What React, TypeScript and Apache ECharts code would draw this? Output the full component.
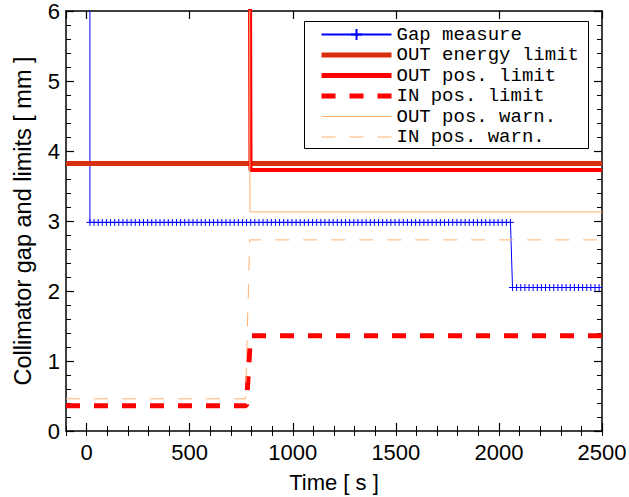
import React, { useEffect, useRef } from "react";
import * as echarts from "echarts";

// ---- data ----
const xRange = [-100, 2500];
const yRange = [0, 6];

// Gap measure: sampled every ~20 s, two constant plateaus after an initial off-scale value
const gapInitial: [number, number] = [16, 9];
const gapSampleStep = 20;
const gapSegments = [
  { start: 16, end: 2056, value: 2.98 },
  { start: 2066, end: 2486, value: 2.05 },
];

const outEnergyLimit: [number, number][] = [
  [-100, 3.82],
  [2500, 3.82],
];
const outPosLimit: [number, number][] = [
  [-100, 9],
  [790, 9],
  [795, 3.73],
  [2500, 3.73],
];
const inPosLimit: [number, number][] = [
  [-100, 0.36],
  [775, 0.36],
  [795, 1.36],
  [2500, 1.36],
];
const outPosWarn: [number, number][] = [
  [-100, 9],
  [790, 9],
  [792, 3.13],
  [2500, 3.13],
];
const inPosWarn: [number, number][] = [
  [-100, 0.46],
  [771, 0.46],
  [791, 2.73],
  [2500, 2.73],
];

const seriesNames = [
  "Gap measure",
  "OUT energy limit",
  "OUT pos. limit",
  "IN pos. limit",
  "OUT pos. warn.",
  "IN pos. warn.",
];

const buildGap = (): [number, number][] => {
  const pts: [number, number][] = [gapInitial];
  gapSegments.forEach((s) => {
    for (let t = s.start; t <= s.end; t += gapSampleStep) pts.push([t, s.value]);
  });
  return pts;
};

const FONT = "'Liberation Sans', Arial, Helvetica, sans-serif";
const MONO = "'Liberation Mono', 'Courier New', monospace";

const BLUE = "#0000ff";
const ENERGY = "#d8300c";
const RED = "#ff0000";
const WARN = "#ffb070";

export default function App() {
  const ref = useRef<HTMLDivElement>(null);
  useEffect(() => {
    if (!ref.current) return;
    const chart = echarts.init(ref.current, undefined, { renderer: "svg" });
    const axisLine = { show: true, onZero: false, lineStyle: { color: "#000", width: 1.5 } };
    const baseX = {
      type: "value" as const,
      min: xRange[0],
      max: xRange[1],
      splitLine: { show: false },
    };
    const baseY = {
      type: "value" as const,
      min: yRange[0],
      max: yRange[1],
      interval: 1,
      splitLine: { show: false },
    };
    const hiddenSym = { opacity: 0 };
    chart.setOption({
      animation: false,
      backgroundColor: "#fff",
      grid: { left: 66, right: 27, top: 11, bottom: 66, containLabel: false, outerBoundsMode: "none" },
      graphic: [
        {
          type: "rect",
          z: 9,
          shape: { x: 304.5, y: 21.5, width: 284, height: 127 },
          style: { fill: "#fff", stroke: "#000", lineWidth: 1 },
        },
      ],
      legend: {
        orient: "vertical",
        left: 304,
        top: 21,
        z: 10,
        data: [
          { name: seriesNames[0] },
          { name: seriesNames[1], itemStyle: hiddenSym, lineStyle: { width: 5 } },
          { name: seriesNames[2], itemStyle: hiddenSym, lineStyle: { width: 5 } },
          { name: seriesNames[3], itemStyle: hiddenSym, lineStyle: { width: 5 } },
          { name: seriesNames[4], itemStyle: hiddenSym, lineStyle: { width: 1 } },
          { name: seriesNames[5], itemStyle: hiddenSym, lineStyle: { width: 1 } },
        ],
        backgroundColor: "transparent",
        borderWidth: 0,
        padding: [4, 4, 3, 15],
        itemWidth: 70,
        itemHeight: 14,
        itemGap: 1.5,
        selectedMode: false,
        textStyle: { fontFamily: MONO, fontSize: 19, lineHeight: 19, color: "#000" },
      },
      xAxis: [
        {
          ...baseX,
          position: "bottom",
          splitNumber: 5,
          name: "Time [ s ]",
          nameLocation: "middle",
          nameGap: 40,
          nameTextStyle: { fontFamily: FONT, fontSize: 22, color: "#000" },
          axisLine,
          axisTick: { show: true, inside: true, length: 8, lineStyle: { color: "#000", width: 1.2 } },
          axisLabel: {
            showMinLabel: false,
            margin: 10,
            fontFamily: FONT,
            fontSize: 22,
            color: "#000",
            formatter: (v: number) => String(v),
          },
        },
        {
          ...baseX,
          position: "bottom",
          interval: 100,
          axisLine: { show: false },
          axisTick: { show: true, inside: true, length: 5, lineStyle: { color: "#000", width: 1 } },
          axisLabel: { show: false },
        },
        {
          ...baseX,
          position: "top",
          splitNumber: 5,
          axisLine,
          axisTick: { show: true, inside: true, length: 8, lineStyle: { color: "#000", width: 1.2 } },
          axisLabel: { show: false },
        },
        {
          ...baseX,
          position: "top",
          interval: 100,
          axisLine: { show: false },
          axisTick: { show: true, inside: true, length: 5, lineStyle: { color: "#000", width: 1 } },
          axisLabel: { show: false },
        },
      ],
      yAxis: [
        {
          ...baseY,
          position: "left",
          name: "Collimator gap and limits [ mm ]",
          nameLocation: "middle",
          nameGap: 33,
          nameTextStyle: { fontFamily: FONT, fontSize: 23.5, lineHeight: 20, color: "#000" },
          axisLine,
          axisTick: { show: true, inside: true, length: 8, lineStyle: { color: "#000", width: 1.2 } },
          minorTick: { show: true, splitNumber: 5, length: 5, lineStyle: { color: "#000", width: 1 } },
          axisLabel: { margin: 6, fontFamily: FONT, fontSize: 22, lineHeight: 16, color: "#000" },
        },
        {
          ...baseY,
          position: "right",
          axisLine,
          axisTick: { show: true, inside: true, length: 8, lineStyle: { color: "#000", width: 1.2 } },
          minorTick: { show: true, splitNumber: 5, length: 5, lineStyle: { color: "#000", width: 1 } },
          axisLabel: { show: false },
        },
      ],
      series: [
        {
          name: seriesNames[0],
          type: "line",
          data: buildGap(),
          symbol: "path://M5,0 L5,10 M0,5 L10,5",
          symbolSize: 7,
          showSymbol: true,
          showAllSymbol: true,
          itemStyle: { color: "none", borderColor: BLUE, borderWidth: 1 },
          lineStyle: { color: BLUE, width: 1 },
          color: BLUE,
          clip: true,
          z: 2,
        },
        {
          name: seriesNames[1],
          type: "line",
          data: outEnergyLimit,
          symbol: "none",
          color: ENERGY,
          lineStyle: { color: ENERGY, width: 5 },
          clip: true,
          z: 3,
        },
        {
          name: seriesNames[2],
          type: "line",
          data: outPosLimit,
          symbol: "none",
          color: RED,
          lineStyle: { color: RED, width: 4 },
          clip: true,
          z: 4,
        },
        {
          name: seriesNames[3],
          type: "line",
          data: inPosLimit,
          symbol: "none",
          color: RED,
          lineStyle: { color: RED, width: 5, type: [14, 14] },
          clip: true,
          z: 5,
        },
        {
          name: seriesNames[4],
          type: "line",
          data: outPosWarn,
          symbol: "none",
          color: WARN,
          lineStyle: { color: WARN, width: 1 },
          clip: true,
          z: 6,
        },
        {
          name: seriesNames[5],
          type: "line",
          data: inPosWarn,
          symbol: "none",
          color: WARN,
          lineStyle: { color: WARN, width: 1, type: [14, 14] },
          clip: true,
          z: 7,
        },
      ],
    });
    return () => chart.dispose();
  }, []);
  return <div ref={ref} style={{ width: 629, height: 497, position: "absolute", left: 0, top: 0 }} />;
}
